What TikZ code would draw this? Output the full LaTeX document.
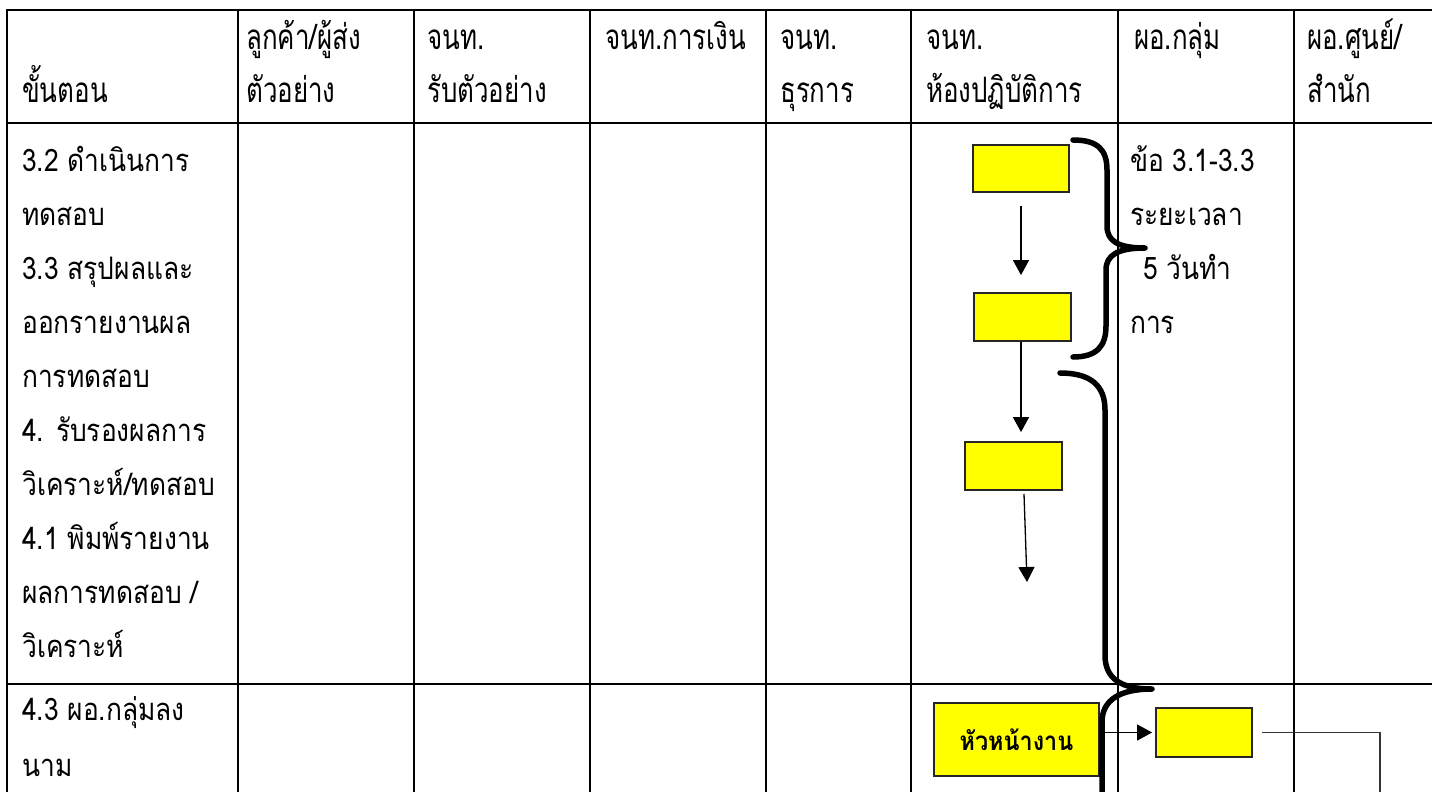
\documentclass[tikz,border=0pt]{standalone}
\usepackage{fontspec}
\usetikzlibrary{arrows.meta}
\newfontfamily\thaibody[Script=Thai,FakeStretch=0.85]{Loma}
\newfontfamily\thaihead[Script=Thai,FakeStretch=0.74]{Loma}
\newfontfamily\thaibox[Script=Thai,FakeStretch=0.9]{Loma}
\definecolor{boxyellow}{RGB}{255,255,0}
\tikzset{
  grid/.style={line width=2.8pt, line cap=rect},
  hdr/.style={anchor=base west, inner sep=0pt, font=\thaihead\fontsize{35}{35}\selectfont},
  txt/.style={anchor=base west, inner sep=0pt, font=\thaibody\fontsize{31}{31}\selectfont},
  ybox/.style={draw=black!85, line width=1.8pt, fill=boxyellow, inner sep=0pt},
  flow/.style={line width=1.3pt, -{Triangle[width=16pt,length=15pt]}},
  plain/.style={line width=1.6pt, draw=black!80},
  brace/.style={line width=5.5pt, line cap=round, line join=round}
}
\begin{document}
\begin{tikzpicture}[x=1pt,y=-1pt]
\path[use as bounding box] (0,0) rectangle (1432,792);
\clip (0,0) rectangle (1432,792);

% table frame
\draw[grid] (7,10) -- (1480,10);
\draw[grid] (7,123) -- (1480,123);
\draw[grid] (7,684) -- (1480,684);
\foreach \x in {7,238,414,590,766,911,1118,1294}
  \draw[grid] (\x,10) -- (\x,800);

% column heads
\node[hdr] (h0) at (22,102) {ขั้นตอน};
\node[hdr] (h1a) at (246,50) {ลูกค้า/ผู้ส่ง};
\node[hdr] (h1b) at (246,102) {ตัวอย่าง};
\node[hdr] (h2a) at (427,50) {จนท.};
\node[hdr] (h2b) at (427,102) {รับตัวอย่าง};
\node[hdr] (h3) at (605,50) {จนท.การเงิน};
\node[hdr] (h4a) at (780,50) {จนท.};
\node[hdr] (h4b) at (780,102) {ธุรการ};
\node[hdr] (h5a) at (926,50) {จนท.};
\node[hdr] (h5b) at (926,102) {ห้องปฏิบัติการ};
\node[hdr] (h6) at (1134,50) {ผอ.กลุ่ม};
\node[hdr] (h7a) at (1307,50) {ผอ.ศูนย์/};
\node[hdr] (h7b) at (1307,102) {สำนัก};

% steps column
\node[txt] (s1) at (22,171) {3.2 ดำเนินการ};
\node[txt] (s2) at (22,225) {ทดสอบ};
\node[txt] (s3) at (22,279) {3.3 สรุปผลและ};
\node[txt] (s4) at (22,333) {ออกรายงานผล};
\node[txt] (s5) at (22,387) {การทดสอบ};
\node[txt] (s6) at (22,441) {4. รับรองผลการ};
\node[txt] (s7) at (22,495) {วิเคราะห์/ทดสอบ};
\node[txt] (s8) at (22,549) {4.1 พิมพ์รายงาน};
\node[txt] (s9) at (22,603) {ผลการทดสอบ /};
\node[txt] (s10) at (22,657) {วิเคราะห์};
\node[txt] (s11) at (22,720) {4.3 ผอ.กลุ่มลง};
\node[txt] (s12) at (22,776) {นาม};

% time note
\node[txt] (n1) at (1130,171) {ข้อ 3.1-3.3};
\node[txt] (n2) at (1130,225) {ระยะเวลา};
\node[txt] (n3) at (1143,279) {5 วันทำ};
\node[txt] (n4) at (1130,333) {การ};

% process boxes
\node[ybox, minimum width=96pt, minimum height=47pt] (b1) at (1021,168.5) {};
\node[ybox, minimum width=97pt, minimum height=48pt] (b2) at (1022.5,317) {};
\node[ybox, minimum width=97pt, minimum height=48pt] (b3) at (1013.5,466) {};
\node[ybox, minimum width=165pt, minimum height=73pt, font=\thaibox\bfseries\fontsize{26}{26}\selectfont] (b4) at (1016.5,739.5) {หัวหน้างาน};
\node[ybox, minimum width=96pt, minimum height=49pt] (b5) at (1204,732.5) {};

% flow arrows
\coordinate (a3s) at (1024,494);
\coordinate (a3e) at (1027,582);
\coordinate (corner) at (1380,732.5);
\coordinate (down) at (1380,800);
\draw[flow, shorten <=13pt, shorten >=17pt] (b1.south) -- (b1.south |- b2.north);
\draw[flow, shorten >=9pt] (b2.south -| b1.south) -- (b1.south |- b3.north);
\draw[flow] (a3s) -- (a3e);
\draw[flow, shorten >=3pt] (b4.east |- b5.west) -- (b5.west);
\draw[plain] ([xshift=9pt]b5.east) -- (corner) -- (down);

% braces
\draw[brace] (1073,140) .. controls (1098,140) and (1107,150) .. (1107,170)
  -- (1107,226) .. controls (1107,241) and (1118,248) .. (1145,248)
  .. controls (1118,248) and (1106,255) .. (1106,270)
  -- (1106,326) .. controls (1106,346) and (1097,357) .. (1073,357);
\draw[brace] (1060,373) .. controls (1090,373) and (1105,385) .. (1105,410)
  -- (1105,655) .. controls (1105,678) and (1120,689) .. (1152,689)
  .. controls (1120,689) and (1102,700) .. (1102,722)
  -- (1102,800);
\end{tikzpicture}
\end{document}
